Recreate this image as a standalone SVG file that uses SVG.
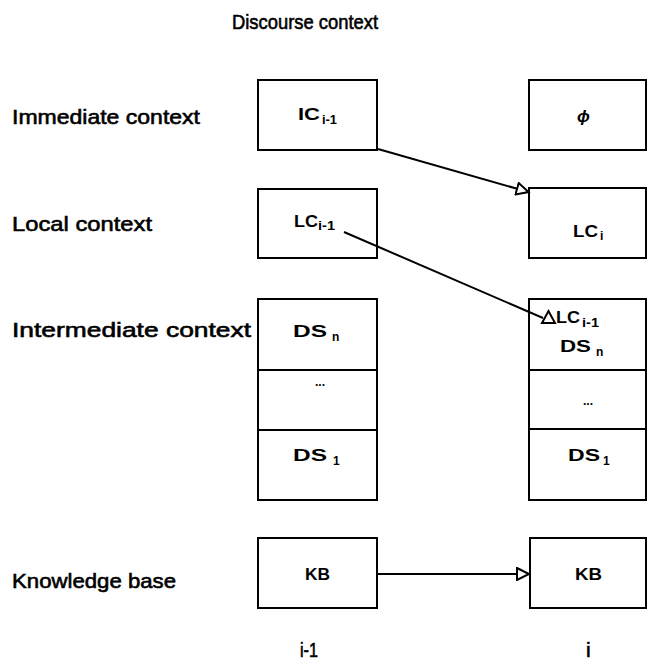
<svg xmlns="http://www.w3.org/2000/svg" width="649" height="665" viewBox="0 0 649 665">
<style>
.box{fill:#fff;stroke:#000;stroke-width:2}
.lbl{font-family:"Liberation Sans",Arial,sans-serif;font-size:21px;fill:#000;stroke:#000;stroke-width:0.6}
.bt{font-family:"Liberation Sans",Arial,sans-serif;font-size:17px;font-weight:bold;fill:#000}
.sub{font-family:"Liberation Sans",Arial,sans-serif;font-size:12px;font-weight:bold;fill:#000}
.con{stroke:#000;stroke-width:2;fill:none}
.head{fill:#fff;stroke:#000;stroke-width:2}
</style>
<defs>
<marker id="tri" markerUnits="userSpaceOnUse" markerWidth="16" markerHeight="14" refX="1" refY="6" orient="auto" viewBox="-1 -1 16 14">
<path d="M0,0 L12,6 L0,12 z" fill="#fff" stroke="#000" stroke-width="2"/>
</marker>
</defs>
<rect width="649" height="665" fill="#fff"/>
<g id="labels">
<text class="lbl" x="232" y="29" font-size="20" textLength="146" lengthAdjust="spacingAndGlyphs">Discourse context</text>
<text class="lbl" x="12" y="124" textLength="188" lengthAdjust="spacingAndGlyphs">Immediate context</text>
<text class="lbl" x="12" y="231" textLength="140" lengthAdjust="spacingAndGlyphs">Local context</text>
<text class="lbl" x="12" y="337" textLength="239" lengthAdjust="spacingAndGlyphs">Intermediate context</text>
<text class="lbl" x="12" y="588" textLength="164" lengthAdjust="spacingAndGlyphs">Knowledge base</text>
<text class="lbl" x="300" y="657" textLength="18" lengthAdjust="spacingAndGlyphs">i-1</text>
<text class="lbl" x="586" y="657">i</text>
</g>
<g id="ic-prev"><rect class="box" x="258" y="80" width="119" height="70"/><text class="bt" x="298" y="120" textLength="22" lengthAdjust="spacingAndGlyphs">IC</text><text class="sub" x="322" y="124" textLength="15" lengthAdjust="spacingAndGlyphs">i-1</text></g>
<g id="empty"><rect class="box" x="529" y="80" width="117" height="70"/><text class="bt" x="577" y="122" font-size="19" font-style="italic">ϕ</text></g>
<g id="lc-prev"><rect class="box" x="258" y="189" width="119" height="69"/><text class="bt" x="294" y="227" textLength="24" lengthAdjust="spacingAndGlyphs">LC</text><text class="sub" x="318" y="230" textLength="17" lengthAdjust="spacingAndGlyphs">i-1</text></g>
<g id="lc-cur"><rect class="box" x="529" y="188" width="117" height="70"/><text class="bt" x="573" y="237" textLength="25" lengthAdjust="spacingAndGlyphs">LC</text><text class="sub" x="600" y="240">i</text></g>
<g id="ds-prev">
<rect class="box" x="258" y="299" width="119" height="71"/><text class="bt" x="293" y="337" textLength="34" lengthAdjust="spacingAndGlyphs">DS</text><text class="sub" x="332" y="341">n</text>
<rect class="box" x="258" y="370" width="119" height="60"/><text class="sub" x="315" y="386" font-size="10">...</text>
<rect class="box" x="258" y="430" width="119" height="70"/><text class="bt" x="293" y="461" textLength="34" lengthAdjust="spacingAndGlyphs">DS</text><text class="sub" x="333" y="465">1</text>
</g>
<g id="ds-cur">
<rect class="box" x="529" y="299" width="117" height="71"/><text class="bt" x="556" y="323" textLength="24" lengthAdjust="spacingAndGlyphs">LC</text><text class="sub" x="582" y="327" textLength="17" lengthAdjust="spacingAndGlyphs">i-1</text><text class="bt" x="560" y="352" textLength="31" lengthAdjust="spacingAndGlyphs">DS</text><text class="sub" x="596" y="356">n</text>
<rect class="box" x="529" y="370" width="117" height="59"/><text class="sub" x="583" y="405" font-size="10">...</text>
<rect class="box" x="529" y="429" width="117" height="71"/><text class="bt" x="568" y="461" textLength="32" lengthAdjust="spacingAndGlyphs">DS</text><text class="sub" x="603" y="465">1</text>
</g>
<g id="kb-prev"><rect class="box" x="258" y="538" width="119" height="70"/><text class="bt" x="305" y="580" font-size="16" textLength="25" lengthAdjust="spacingAndGlyphs">KB</text></g>
<g id="kb-cur"><rect class="box" x="530" y="538" width="116" height="70"/><text class="bt" x="575" y="580" font-size="16" textLength="27" lengthAdjust="spacingAndGlyphs">KB</text></g>
<g id="connectors">
<line class="con" x1="378" y1="149" x2="518" y2="189" marker-end="url(#tri)"/>
<line class="con" x1="344" y1="232" x2="543" y2="318"/>
<polygon class="head" points="542,323 548.5,311 555,323"/>
<line class="con" x1="378" y1="574" x2="518" y2="574" marker-end="url(#tri)"/>
</g>
</svg>
